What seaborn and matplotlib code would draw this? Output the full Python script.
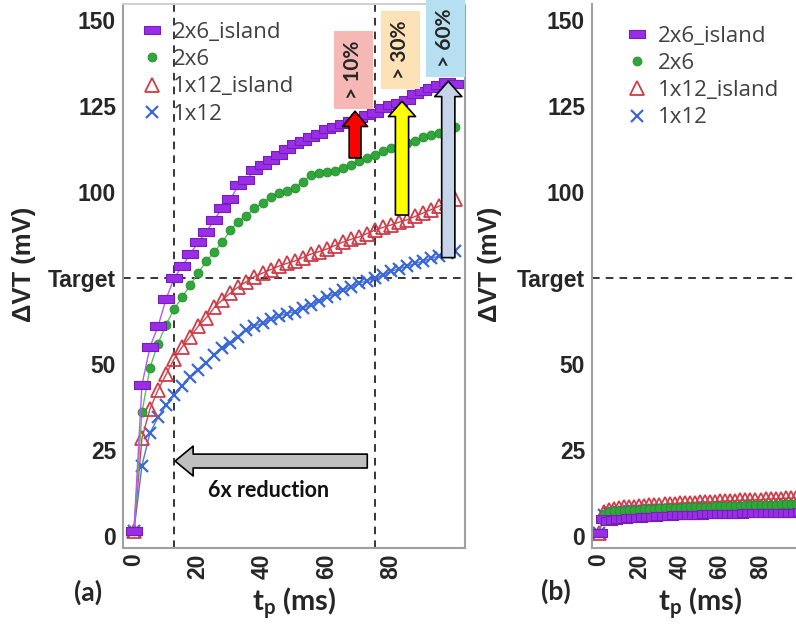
import numpy as np
import pandas as pd
import seaborn as sns
import matplotlib
matplotlib.use("Agg")
import matplotlib.pyplot as plt
from matplotlib.lines import Line2D

# ---------------- data ----------------
t_ms = [0, 2.5, 5, 7.5, 10, 12.5, 15, 17.5, 20, 22.5, 25, 27.5, 30, 32.5, 35, 37.5,
        40, 42.5, 45, 47.5, 50, 52.5, 55, 57.5, 60, 62.5, 65, 67.5, 70, 72.5, 75,
        77.5, 80, 82.5, 85, 87.5, 90, 92.5, 95, 97.5, 100]

series_names = ["2x6_island", "2x6", "1x12_island", "1x12"]

# panel (a)
a_2x6_island = [1.5, 44, 55, 61, 69, 75, 78.5, 82, 85.5, 88.5, 92, 95.5, 98, 102, 103.5,
                106.5, 108, 109.5, 111, 112.5, 114, 115, 116, 117, 118.5, 119, 120,
                120.8, 121.5, 122.5, 123, 124.5, 125.3, 126, 127, 128.5, 129.5, 130.5,
                131.3, 132, 131.5]
a_2x6 = [1.5, 36, 49, 56, 61.5, 66, 69.5, 73, 76.5, 80, 82.7, 85.5, 89, 91.5, 93.2, 95.3,
         97, 98.5, 99.8, 100.5, 101.2, 103, 105, 105.6, 105.8, 106.3, 107, 108, 109, 110,
         111, 112, 113, 113.5, 114.3, 115, 116, 116.7, 117.3, 118, 119]
a_1x12_island = [1.5, 28.5, 37, 42.5, 47, 51.5, 55, 58, 61, 63.5, 66.5, 68.7, 70.7, 72.5,
                 74, 75.5, 76.5, 77.5, 78.5, 79.3, 80, 81, 82, 82.7, 83.5, 84.5, 85.5,
                 86.3, 87, 88, 89, 89.8, 90.5, 91.3, 92, 93, 94, 95, 96, 97, 98]
a_1x12 = [1.5, 20.5, 30, 34.5, 38, 41, 43.7, 46.3, 48.3, 50.3, 52.7, 54.7, 56.2, 58, 60,
          61, 62, 63, 64, 64.7, 65.3, 66.3, 67.3, 68.3, 69.5, 70.5, 71.5, 72.5, 73.5,
          74.3, 75, 76, 77, 77.8, 78.5, 79.3, 80, 80.8, 81.5, 82.2, 83]

# panel (b)
b_2x6_island = [1, 5, 4.5, 4.7, 4.9, 5.0, 5.1, 5.2, 5.3, 5.4, 5.5, 5.6, 5.7, 5.8, 5.9,
                6.0, 6.0, 6.1, 6.1, 6.2, 6.2, 6.3, 6.3, 6.4, 6.4, 6.4, 6.5, 6.5, 6.5,
                6.6, 6.6, 6.6, 6.7, 6.7, 6.7, 6.7, 6.8, 6.8, 6.8, 6.8, 6.9]
b_2x6 = [1, 6.5, 7.0, 7.2, 7.3, 7.4, 7.5, 7.6, 7.7, 7.8, 7.8, 7.9, 8.0, 8.0, 8.1, 8.1,
         8.2, 8.3, 8.3, 8.4, 8.4, 8.5, 8.5, 8.6, 8.6, 8.7, 8.7, 8.8, 8.8, 8.9, 8.9, 9.0,
         9.0, 9.0, 9.1, 9.1, 9.2, 9.2, 9.2, 9.3, 9.3]
b_1x12_island = [0.8, 7.0, 7.6, 7.9, 8.1, 8.3, 8.4, 8.5, 8.7, 8.8, 8.9, 9.0, 9.1, 9.2,
                 9.3, 9.4, 9.5, 9.6, 9.6, 9.7, 9.8, 9.9, 9.9, 10.0, 10.1, 10.2, 10.2,
                 10.3, 10.4, 10.4, 10.5, 10.6, 10.6, 10.7, 10.8, 10.8, 10.9, 11.0, 11.0,
                 11.1, 11.2]
b_1x12 = [1, 6.0, 6.6, 6.8, 7.0, 7.1, 7.2, 7.3, 7.3, 7.4, 7.5, 7.5, 7.6, 7.7, 7.7, 7.8,
          7.8, 7.9, 7.9, 8.0, 8.0, 8.1, 8.1, 8.1, 8.2, 8.2, 8.3, 8.3, 8.3, 8.4, 8.4, 8.4,
          8.5, 8.5, 8.5, 8.5, 8.6, 8.6, 8.6, 8.6, 8.7]

y_ticks = [0, 25, 50, 75, 100, 125, 150]
y_tick_labels = ["0", "25", "50", "Target", "100", "125", "150"]
x_ticks = [0, 20, 40, 60, 80, 100]
x_tick_labels = ["0", "20", "40", "60", "80", ""]
target = 75
t_fast, t_slow = 12.5, 75

# ---------------- style ----------------
sns.set_style("white")
plt.rcParams["font.family"] = ["Liberation Sans", "DejaVu Sans"]
plt.rcParams["mathtext.fontset"] = "custom"
plt.rcParams["mathtext.bf"] = "Lato:bold"
plt.rcParams["mathtext.rm"] = "Lato:bold"
plt.rcParams["mathtext.it"] = "Lato:bold"

W, H = 796, 627
fig = plt.figure(figsize=(W / 100, H / 100), dpi=100)

def px(x0, y0, x1, y1):
    return [x0 / W, 1 - y1 / H, (x1 - x0) / W, (y1 - y0) / H]

ax_a = fig.add_axes(px(123, 4, 465, 548))
ax_b = fig.add_axes(px(592, 4, 807, 548))

rect = [(-1, -0.5), (1, -0.5), (1, 0.5), (-1, 0.5), (-1, -0.5)]
styles = {
    "2x6_island": dict(color="#b35cf0", marker=rect, ms=11, mfc="#9a2ee6", mec="#7420b8", mew=0.8),
    "2x6": dict(color="#5cc05c", marker="o", ms=6.4, mfc="#2fa83a", mec="#2a8a30", mew=0.6),
    "1x12_island": dict(color="#d04550", marker="^", ms=9.5, mfc="none", mec="#cf3c48", mew=1.3),
    "1x12": dict(color="#4a78dc", marker="x", ms=8, mfc="#3a68d8", mec="#3a68d8", mew=1.6),
}

def draw(ax, data):
    for name in ["1x12", "1x12_island", "2x6", "2x6_island"]:
        st = styles[name]
        sns.lineplot(x=t_ms, y=data[name], ax=ax, color=st["color"], lw=1.0,
                     marker=st["marker"], markersize=st["ms"], markerfacecolor=st["mfc"],
                     markeredgecolor=st["mec"], markeredgewidth=st["mew"],
                     legend=False, errorbar=None, clip_on=True)

draw(ax_a, {"2x6_island": a_2x6_island, "2x6": a_2x6,
            "1x12_island": a_1x12_island, "1x12": a_1x12})
draw(ax_b, {"2x6_island": b_2x6_island, "2x6": b_2x6,
            "1x12_island": b_1x12_island, "1x12": b_1x12})

for ax in (ax_a, ax_b):
    ax.set_xlim(-3.4, 103)
    ax.set_ylim(-3.5, 154.8)
    ax.set_xticks(x_ticks)
    ax.set_xticklabels(x_tick_labels, rotation=90, fontsize=16.5, fontweight="bold")
    ax.set_yticks(y_ticks)
    ax.set_yticklabels(y_tick_labels, fontsize=16.5, fontweight="bold")
    ax.tick_params(axis="y", direction="out", length=4, width=1.2, color="#999999", pad=1)
    ax.tick_params(axis="x", direction="in", length=5, width=1.2, color="#555555", pad=4)
    ax.set_xlabel("")
    ax.set_ylabel("")
    for s in ax.spines.values():
        s.set_color("#a0a0a0")
        s.set_linewidth(1.5)
    ax.axhline(target, color="black", lw=1.1, ls=(0, (5, 4)), zorder=1)

ax_a.spines["top"].set_color("#d0d0d0")
ax_b.spines["top"].set_visible(False)
ax_a.axvline(t_fast, color="black", lw=1.1, ls=(0, (5, 4)), zorder=1)
ax_a.axvline(t_slow, color="black", lw=1.1, ls=(0, (5, 4)), zorder=1)

# legends
def make_handles():
    hs = []
    for name in series_names:
        st = styles[name]
        hs.append(Line2D([], [], ls="none", marker=st["marker"], ms=st["ms"],
                         mfc=st["mfc"], mec=st["mec"], mew=st["mew"]))
    return hs

for ax, anchor in ((ax_a, (0.052, 0.967)), (ax_b, (0.156, 0.96))):
    leg = ax.legend(make_handles(), series_names, loc="upper left", bbox_to_anchor=anchor,
                    frameon=False, prop={"family": "Open Sans", "size": 16},
                    handlelength=1.0, handletextpad=0.45, labelspacing=0.28,
                    borderpad=0, borderaxespad=0, labelcolor="#404040")

# arrows in panel (a)
def arrow(ax, xy_tip, xy_tail, fc, tail_w, head_w, head_l):
    ax.annotate("", xy=xy_tip, xytext=xy_tail,
                arrowprops=dict(arrowstyle=f"simple,head_length={head_l},head_width={head_w},tail_width={tail_w}",
                                fc=fc, ec="black", lw=1.2, shrinkA=0, shrinkB=0,
                                mutation_scale=10), zorder=6, annotation_clip=False)

arrow(ax_a, (12.8, 21.8), (72.6, 21.8), "#bfbfbf", 1.0, 2.15, 1.3)
arrow(ax_a, (68.8, 123.6), (68.8, 110.0), "#ff0000", 0.85, 1.8, 1.1)
arrow(ax_a, (83.4, 126.5), (83.4, 93.4), "#ffff00", 0.95, 1.95, 1.1)
arrow(ax_a, (97.8, 132.3), (97.8, 81.0), "#c6d4ea", 0.95, 1.95, 1.1)

box_kw = dict(rotation=90, ha="center", va="center", fontsize=15, fontweight="bold",
              family="Lato", zorder=7, clip_on=False)
ax_a.text(68.2, 135.6, "> 10%", bbox=dict(boxstyle="square,pad=0.45", fc="#f6b8b4", ec="none"), **box_kw)
ax_a.text(82.9, 141.4, "> 30%", bbox=dict(boxstyle="square,pad=0.45", fc="#fde2b8", ec="none"), **box_kw)
ax_a.text(96.9, 144.9, "> 60%", bbox=dict(boxstyle="square,pad=0.45", fc="#b6e0f2", ec="none"), **box_kw)

ax_a.text(42, 13.2, "6x reduction", ha="center", va="center", fontsize=15.5,
          fontweight="bold", family="Lato", color="#111111")

# figure texts
def ftext(x, y, s, **kw):
    fig.text(x / W, 1 - y / H, s, ha="center", va="center", **kw)

ftext(24, 264, "ΔVT (mV)", rotation=90, fontsize=18.5, fontweight="bold")
ftext(490, 264, "ΔVT (mV)", rotation=90, fontsize=18.5, fontweight="bold")
ftext(294, 603, r"$\mathbf{t_p}$ (ms)", fontsize=21, fontweight="bold", family="Lato")
ftext(700, 603, r"$\mathbf{t_p}$ (ms)", fontsize=21, fontweight="bold", family="Lato")
ftext(88, 592, "(a)", fontsize=19, fontweight="bold", family="Lato")
ftext(556, 591, "(b)", fontsize=19, fontweight="bold", family="Lato")

fig.savefig("out.png", dpi=100, facecolor="white")
